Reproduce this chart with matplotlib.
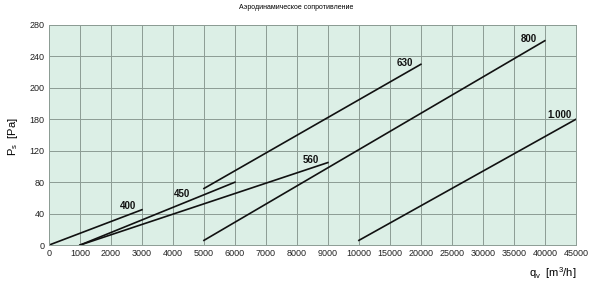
import numpy as np
import matplotlib
matplotlib.use("Agg")
import matplotlib.pyplot as plt

plt.rcParams['font.family'] = ['Liberation Sans', 'DejaVu Sans']

# x axis: ticks equally spaced, but values step 1000 up to 10000, then 5000
x_ticks = [0, 1000, 2000, 3000, 4000, 5000, 6000, 7000, 8000, 9000,
           10000, 15000, 20000, 25000, 30000, 35000, 40000, 45000]
y_ticks = [0, 40, 80, 120, 160, 200, 240, 280]
y_tick_labels = ['0', '40', '80', '120', '180', '200', '240', '280']

# curves: (label, start flow, end flow, start Ps, end Ps)
sizes = ['400', '450', '560', '630', '800', '1.000']
q_start = [0, 1000, 1000, 5000, 5000, 10000]
q_end = [3000, 6000, 9000, 20000, 40000, 45000]
p_start = [0, 0, 0, 72, 6, 6]
p_end = [45, 80, 105, 230, 260, 160]
# label centres
lab_q = [2550, 4300, 8450, 17350, 37350, 42350]
lab_p = [50, 65, 108, 232, 262, 166]

idx = np.arange(len(x_ticks))


def fwd(x):
    return np.interp(x, x_ticks, idx)


def inv(i):
    return np.interp(i, idx, x_ticks)


fig = plt.figure(figsize=(5.98, 2.84), dpi=100)
ax = fig.add_axes([0.0819, 0.137, 0.881, 0.775])
ax.set_facecolor('#dcefe6')
ax.set_xscale('function', functions=(fwd, inv))
ax.set_xlim(0, 45000)
ax.set_ylim(0, 280)
ax.set_xticks(x_ticks)
ax.set_xticklabels([str(v) for v in x_ticks])
ax.set_yticks(y_ticks)
ax.set_yticklabels(y_tick_labels)
ax.minorticks_off()
ax.grid(True, color='#8c9c94', linewidth=0.7)
ax.set_axisbelow(True)
for sp in ax.spines.values():
    sp.set_color('#8c9c94')
    sp.set_linewidth(0.7)
ax.tick_params(labelsize=6.5, length=0, pad=3, colors='#222222')

for i in range(len(sizes)):
    ax.plot([q_start[i], q_end[i]], [p_start[i], p_end[i]], color='#111111', lw=1.2)
    ax.text(lab_q[i], lab_p[i], sizes[i], fontsize=7, fontweight='bold',
            ha='center', va='center', color='#111111')

fig.text(0.495, 0.985, 'Аэродинамическое сопротивление', fontsize=5, ha='center', va='top')
fig.text(0.022, 0.52, r'P$_\mathregular{s}$  [Pa]', fontsize=8, rotation=90,
         ha='center', va='center')
fig.text(0.925, 0.04, r'q$_\mathregular{v}$  [m$^\mathregular{3}$/h]', fontsize=8,
         ha='center', va='center')

fig.savefig('out.png', dpi=100)
